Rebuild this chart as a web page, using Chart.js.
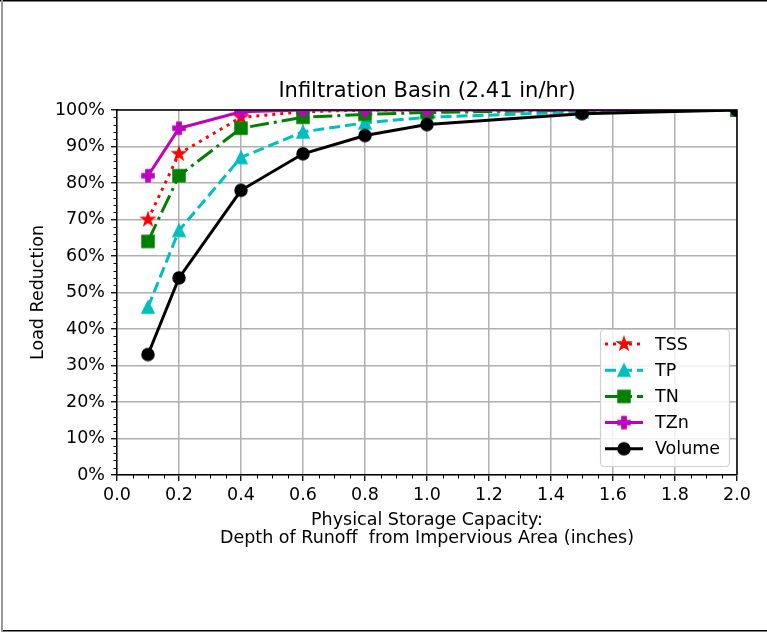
<!DOCTYPE html>
<html>
<head>
<meta charset="utf-8">
<script src="https://cdn.jsdelivr.net/npm/chart.js@4.4.1/dist/chart.umd.min.js"></script>
<style>
  html, body { margin: 0; padding: 0; background: #fff; }
  canvas { display: block; }
</style>
</head>
<body>
<canvas id="basin_chart" width="767" height="634"></canvas>
<script>
// values (load reduction in %)
var depths = [0.1, 0.2, 0.4, 0.6, 0.8, 1.0, 1.5, 2.0];
var tss    = [70, 88, 98, 99.5, 100, 100, 100, 100];
var tp     = [46, 67, 87, 94, 96.5, 98, 99.5, 100];
var tn     = [64, 82, 95, 98, 98.8, 99.3, 100, 100];
var tzn    = [82, 95, 99.5, 100, 100, 100, 100, 100];
var volume = [33, 54, 78, 88, 93, 96, 99, 100];
var seriesNames = ['TSS', 'TP', 'TN', 'TZn', 'Volume'];
var xTicks = [0, 0.2, 0.4, 0.6, 0.8, 1.0, 1.2, 1.4, 1.6, 1.8, 2.0];
var yTicks = [0, 10, 20, 30, 40, 50, 60, 70, 80, 90, 100];
var chartTitle = 'Infiltration Basin (2.41 in/hr)';

var FONT = 'DejaVu Sans';
Chart.defaults.color = '#000';
Chart.defaults.font.family = FONT;

// matplotlib style markers drawn onto small canvases
function makeMarker(kind, color) {
  var c = document.createElement('canvas');
  c.width = 18; c.height = 18;
  var g = c.getContext('2d');
  var m = 9, r = 6;
  g.fillStyle = color;
  g.strokeStyle = color;
  g.lineWidth = 1.5;
  g.lineJoin = 'miter';
  g.beginPath();
  if (kind == 'star') {
    for (var i = 0; i < 10; i++) {
      var rr = i % 2 == 0 ? r + 0.6 : (r + 0.6) * 0.382;
      var a = -Math.PI / 2 + i * Math.PI / 5;
      g.lineTo(m + rr * Math.cos(a), m + rr * Math.sin(a));
    }
  } else if (kind == 'triangle') {
    g.moveTo(m, m - r);
    g.lineTo(m - r, m + r);
    g.lineTo(m + r, m + r);
  } else if (kind == 'square') {
    g.rect(m - r, m - r, 2 * r, 2 * r);
  } else if (kind == 'plus') {
    var w = 2.1;
    g.moveTo(m - w, m - r); g.lineTo(m + w, m - r); g.lineTo(m + w, m - w);
    g.lineTo(m + r, m - w); g.lineTo(m + r, m + w); g.lineTo(m + w, m + w);
    g.lineTo(m + w, m + r); g.lineTo(m - w, m + r); g.lineTo(m - w, m + w);
    g.lineTo(m - r, m + w); g.lineTo(m - r, m - w); g.lineTo(m - w, m - w);
  } else {
    g.arc(m, m, r, 0, Math.PI * 2);
  }
  g.closePath();
  g.fill();
  g.stroke();
  return c;
}

var colors  = ['#ff0000', '#00bfbf', '#008000', '#bf00bf', '#000000'];
var dashes  = [[3, 5], [11, 5], [19, 5, 3, 5], [], []];
var markers = ['star', 'triangle', 'square', 'plus', 'circle'];
var values  = [tss, tp, tn, tzn, volume];

var datasets = [];
for (var i = 0; i < seriesNames.length; i++) {
  var img = makeMarker(markers[i], colors[i]);
  datasets.push({
    label: seriesNames[i],
    data: depths.map(function (d, j) { return { x: d, y: values[i][j] }; }),
    borderColor: colors[i],
    backgroundColor: colors[i],
    borderWidth: 3,
    borderDash: dashes[i],
    borderCapStyle: 'butt',
    pointStyle: img,
    pointRadius: 6,
    pointHoverRadius: 6,
    tension: 0,
    clip: 0,
    order: seriesNames.length - i,
    _marker: img
  });
}

var tickFont = { family: FONT, size: 17.5, lineHeight: 1.05 };

var frame = {
  id: 'frame',
  afterDraw: function (chart) {
    var ctx = chart.ctx, a = chart.chartArea;
    ctx.save();
    // title centred over the axes, like matplotlib
    ctx.fillStyle = '#000';
    ctx.font = '21px "' + FONT + '"';
    ctx.textAlign = 'center';
    ctx.textBaseline = 'middle';
    ctx.fillText(chartTitle, (a.left + a.right) / 2, a.top - 18);
    ctx.textAlign = 'left';
    // axes spines on top/right
    ctx.strokeStyle = '#000';
    ctx.lineWidth = 1.5;
    ctx.beginPath();
    ctx.moveTo(a.left, a.top); ctx.lineTo(a.right, a.top); ctx.lineTo(a.right, a.bottom);
    ctx.stroke();
    // minor ticks
    ctx.lineWidth = 1;
    var xs = chart.scales.x, ys = chart.scales.y;
    ctx.beginPath();
    for (var v = 0; v <= 100; v += 2) {
      if (v % 10 == 0) continue;
      var py = Math.round(ys.getPixelForValue(v)) + 0.5;
      ctx.moveTo(a.left - 3.5, py); ctx.lineTo(a.left, py);
    }
    for (var k = 0; k <= 40; k++) {
      if (k % 4 == 0) continue;
      var px = Math.round(xs.getPixelForValue(k * 0.05)) + 0.5;
      ctx.moveTo(px, a.bottom); ctx.lineTo(px, a.bottom + 3.5);
    }
    ctx.stroke();
    // legend, lower right like matplotlib
    var bw = 129, bh = 137;
    var bx = a.right - 8 - bw, by = a.bottom - 9 - bh;
    ctx.fillStyle = 'rgba(255,255,255,0.85)';
    ctx.strokeStyle = '#d0d0d0';
    ctx.lineWidth = 1.2;
    ctx.beginPath();
    ctx.roundRect(bx + 0.5, by + 0.5, bw, bh, 4);
    ctx.fill();
    ctx.stroke();
    ctx.font = '17.5px "' + FONT + '"';
    ctx.textBaseline = 'middle';
    chart.data.datasets.forEach(function (ds, n) {
      var cy = by + 15 + n * 26.2;
      ctx.strokeStyle = ds.borderColor;
      ctx.lineWidth = 3;
      ctx.lineCap = 'butt';
      ctx.setLineDash(ds.borderDash);
      ctx.beginPath();
      ctx.moveTo(bx + 5, cy); ctx.lineTo(bx + 43, cy);
      ctx.stroke();
      ctx.setLineDash([]);
      ctx.drawImage(ds._marker, bx + 24 - 9, cy - 9);
      ctx.fillStyle = '#000';
      ctx.fillText(ds.label, bx + 55, cy + 1);
    });
    // page border
    ctx.fillStyle = '#000';
    ctx.fillRect(0, 0, 767, 1.5);
    ctx.fillRect(2, 630, 765, 1.5);
    ctx.fillStyle = '#999';
    ctx.fillRect(1, 0, 2, 632);
    ctx.restore();
  }
};

var ctx = document.getElementById('basin_chart').getContext('2d');
var chartInstance = new Chart(ctx, {
  type: 'line',
  data: { datasets: datasets },
  plugins: [frame],
  options: {
    responsive: false,
    animation: false,
    devicePixelRatio: 1,
    layout: { padding: { left: 0, right: 30, top: 110, bottom: 0 } },
    plugins: {
      legend: { display: false },
      tooltip: { enabled: false },
      title: { display: false }
    },
    scales: {
      x: {
        type: 'linear',
        min: 0, max: 2,
        afterBuildTicks: function (s) { s.ticks = xTicks.map(function (v) { return { value: v }; }); },
        afterFit: function (s) { s.height = 159; },
        ticks: {
          font: tickFont, color: '#000', padding: 5, maxRotation: 0, autoSkip: false,
          callback: function (v) { return Number(v).toFixed(1); }
        },
        grid: { color: '#b0b0b0', lineWidth: 1.5, tickColor: '#000', tickLength: 6, tickWidth: 1.3 },
        border: { color: '#000', width: 1.5 },
        title: {
          display: true,
          text: ['Physical Storage Capacity:', 'Depth of Runoff  from Impervious Area (inches)'],
          font: tickFont, color: '#000',
          padding: { top: 0, bottom: 86 }
        }
      },
      y: {
        min: 0, max: 100,
        afterBuildTicks: function (s) { s.ticks = yTicks.map(function (v) { return { value: v }; }); },
        afterFit: function (s) { s.width = 117; },
        ticks: {
          font: tickFont, color: '#000', padding: 6, autoSkip: false,
          callback: function (v) { return v + '%'; }
        },
        grid: { color: '#b0b0b0', lineWidth: 1.5, tickColor: '#000', tickLength: 6, tickWidth: 1.3 },
        border: { color: '#000', width: 1.5 },
        title: {
          display: true,
          text: 'Load Reduction',
          font: tickFont, color: '#000',
          padding: { top: 29, bottom: 0 }
        }
      }
    }
  }
});
</script>
</body>
</html>
